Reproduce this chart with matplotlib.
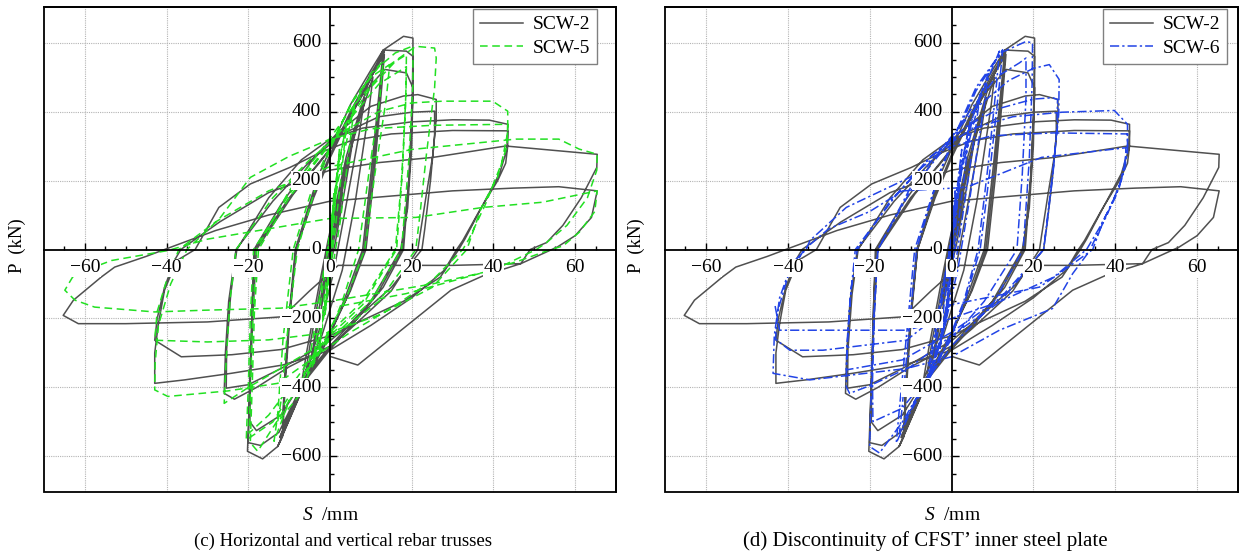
import matplotlib
matplotlib.use("Agg")
import matplotlib.pyplot as plt
from matplotlib.lines import Line2D
from matplotlib.patches import Rectangle
import numpy as np

plt.rcParams['font.family'] = ['Liberation Serif', 'DejaVu Serif']
plt.rcParams['mathtext.fontset'] = 'custom'
plt.rcParams['mathtext.it'] = 'Liberation Serif:italic'
plt.rcParams['mathtext.rm'] = 'Liberation Serif'

# ---------------- data (S in mm, P in kN) ----------------
scw2_small = [(0,0),(1.5,80),(3,165),(2,90),(0.3,-10),(-1.2,-100),(-2.3,-160),(-1.2,-70),(0.2,15),
              (2.8,160),(5.5,310),(4,200),(1.3,20),(-1,-100),(-3.5,-255),(-4.3,-300),(-2.8,-180),(-0.6,-25),(0.5,40),
              (4,250),(8.5,440),(7.2,340),(3.5,100),(0.8,-70),(-3,-250),(-6,-360),(-4.8,-270),(-2,-90),(-0.2,30),
              (3,200),(6.5,350),(10.5,500),(9.6,410),(6.2,140),(3,-60),(-2,-250),(-6.8,-375),(-5.6,-290),(-2.6,-100),(-0.5,25)]
scw2_13 = [(4,270),(9,470),(13,578),(12.4,500),(10.3,250),(8,0),(4,-130),(0,-250),(-5.5,-370),(-12.8,-571),(-11.6,-542),(-11.3,-420),(-10,-200),(-8.3,0),
           (-4,160),(0,275),(5,400),(10,510),(13.2,572),(12.6,495),(10.6,240),(8.4,0),(4.5,-130),(0,-245),(-5.5,-365),(-12.3,-545),(-11.5,-520),(-11,-400),(-9.8,-190),(-8.3,0),
           (-4,150),(0,265),(5,390),(10,500),(13.3,565),(12.8,490),(10.9,230),(8.8,0),(5,-120),(0,-240),(-5.5,-360),(-11.6,-520),(-11.2,-400),(-10,-190),(-8.5,0)]
scw2_20 = [(-3,210),(0,290),(5,420),(10,520),(13,578),(18,618),(20.3,613),(20.3,450),(19.6,250),(18,0),(13,-110),(6,-210),(0,-290),(-5.5,-372),(-12.8,-571),(-16.5,-607),(-20.2,-585),(-19.6,-390),(-18.8,-170),(-18,0),
           (-9,160),(-2.4,257),(1.6,315),(8,450),(13.4,578),(18.7,575),(20.3,560),(20.1,420),(19.3,200),(17.6,0),(12,-120),(5,-225),(0,-285),(-6,-372),(-12.5,-530),(-17,-568),(-20,-560),(-19.6,-380),(-19,-150),(-18.4,0),
           (-10,150),(-3,245),(2,320),(8,450),(13.4,522),(18.7,512),(20.3,469),(20,300),(19,120),(17.3,0),(10,-150),(0,-280),(-6,-368),(-12,-480),(-18,-525),(-19.6,-500),(-19.5,-380),(-19,-150),(-18.6,0)]
scw2_26 = [(-12,130),(-4,265),(2,340),(10,415),(18,445),(21.5,449),(26,435),(26,380),(25.2,276),(23.6,161),(22,40),(21.5,0),(15,-120),(5,-230),(0,-280),(-10,-340),(-18,-400),(-23.4,-434),(-25.9,-417),(-25.6,-300),(-24.8,-150),(-23,0),
           (-14,140),(-5,255),(3,335),(12,385),(20,398),(25.6,401),(25.6,330),(24.6,200),(23.2,60),(22.5,0),(15,-110),(5,-215),(0,-265),(-12,-345),(-20,-392),(-25.4,-402),(-25.3,-290),(-24.3,-130),(-22.8,0)]
scw2_43 = [(-15,150),(-7,260),(0,320),(8,352),(20,370),(30,376),(39,375),(43.5,363),(43.5,300),(43,250),(41,199),(36.6,113),(32.5,26),(31,0),(28,-60),(20,-140),(10,-220),(0,-292),(-11.6,-335),(-24.2,-359),(-35.6,-378),(-42.9,-388),(-42.9,-300),(-42,-215),(-40.5,-118),(-37.5,-32),(-33,0),
           (-27.2,122),(-19.5,190),(-9.8,238),(-2.4,281),(5,315),(15,335),(30,345),(43.5,344),(43.3,290),(41.5,220),(37,120),(33,30),(31.5,0),(27,-80),(18,-150),(8,-205),(0,-250),(-12,-290),(-24,-305),(-36.4,-311),(-42.9,-263),(-42.3,-200),(-40.5,-110),(-38,-30),(-36.5,0)]
scw2_65 = [(-27,80),(-15,165),(0,230),(12,252),(25.2,267),(43,300),(56,286),(65.4,276),(65.3,238),(61.5,150),(57,70),(53,20),(49,0),(46.7,-41),(30,-46),(2,-46),(-5,-120),(-11.6,-195),(-30,-210),(-50,-215),(-61.6,-215),(-65.3,-191),(-62.8,-147),(-56,-80),(-52.7,-51),(-45,-20),(-40.5,0),
           (-28,55),(-15,100),(0,140),(15,155),(30,170),(45,178),(56,182),(65.4,170),(64,93),(60,40),(55.6,7),(46.7,-41),(37.7,-75),(29.6,-118),(6.8,-335),(0.3,-311)]

scw5_small = [(0,0),(0.5,90),(1,170),(0.5,70),(0,-20),(-0.7,-120),(-1.2,-190),(-0.5,-70),(0.2,20),
              (1.2,160),(2.3,290),(1.5,170),(0.3,-30),(-1.3,-170),(-2.6,-290),(-1.6,-160),(-0.1,10),
              (1.8,230),(4,360),(3,240),(1,30),(-1.6,-190),(-4,-330),(-3,-220),(-0.8,-20),
              (1,150),(3,300),(6,420),(5,320),(2.5,80),(0.5,-60),(-2.5,-250),(-5.5,-360),(-4.5,-280),(-1.5,-60),(0.3,60)]
scw5_13 = [(2,200),(6,420),(10,510),(13,545),(12.2,440),(9.5,220),(7,0),(3,-150),(0,-240),(-4,-330),(-8,-430),(-12.8,-500),(-12,-440),(-10.5,-250),(-8,0),
           (-3,200),(0,290),(5,420),(10,500),(14.6,536),(13.8,440),(11,220),(8.5,0),(4,-140),(0,-230),(-5,-340),(-10,-440),(-13.7,-556),(-12.8,-480),(-11.5,-260),(-9,0)]
scw5_20 = [(-4,190),(0,300),(6,440),(12,530),(16,570),(20.3,590),(20.3,480),(19.3,260),(17.5,0),(10,-150),(0,-260),(-6.3,-359),(-12,-480),(-17.7,-585),(-19.5,-560),(-19,-380),(-18.5,-180),(-17.5,0),
           (-10,150),(-3,260),(3,350),(10,470),(16,545),(18.7,565),(18.6,460),(17.8,240),(16.3,0),(8,-160),(0,-250),(-7,-370),(-14,-500),(-20.5,-552),(-20,-400),(-19.5,-200),(-18.7,0),
           (-10,160),(-2,280),(5,380),(12,480),(18.7,530),(18.5,420),(17.5,200),(16,0),(8,-150),(0,-240),(-8,-370),(-15,-480),(-19.8,-532),(-19.5,-420),(-19,-220),(-18,0)]
scw5_26 = [(-10,170),(-2,290),(6,420),(14,530),(21,589),(25.6,584),(26,555),(25.6,469),(23.6,276),(22,100),(21,0),(12,-150),(0,-260),(-10,-330),(-20,-400),(-25.9,-446),(-25.5,-340),(-24.5,-150),(-23,0)]
scw5_43 = [(-14,150),(-5,260),(3,340),(12,400),(20,425),(27.6,430),(39.8,430),(43.5,401),(43.5,340),(42,250),(38,130),(34,30),(32.5,0),(25,-90),(15,-170),(5,-240),(0,-280),(-12.8,-388),(-25,-410),(-39.7,-426),(-42.9,-407),(-42.8,-330),(-42,-220),(-39,-100),(-35,0),
           (-27,90),(-19.5,209),(-10,270),(0,320),(10,350),(25,360),(43.5,363),(43.3,300),(41,210),(37,120),(33.5,0),(25,-110),(12,-190),(0,-240),(-15,-262),(-30,-268),(-42.9,-263),(-42.3,-180),(-40,-90),(-37,0)]
scw5_65 = [(-28,80),(-15,170),(0,240),(20,290),(45.5,320),(56,320),(61,291),(65.4,276),(65.3,230),(63,150),(58,70),(53,20),(50.5,0),(40,-60),(25,-100),(10,-130),(0,-150),(-12,-170),(-30.7,-176),(-42.9,-181),(-57.6,-167),(-62.4,-147),(-64.9,-118),(-63,-80),(-60,-61),(-53.5,-32),(-39.7,-3),
           (-30,30),(-15,60),(0,90),(21,93),(37.4,122),(52,137),(65.4,170),(64.8,110),(61,50),(57,10),(54,0),(46.5,-32),(36.5,-70),(18.6,-128),(1.7,-166)]

scw6_small = [(0,0),(0.4,90),(0.9,170),(0.5,70),(0,-20),(-0.8,-130),(-1.5,-220),(-0.8,-90),(0.1,20),
              (1.3,170),(2.5,290),(1.6,160),(0.3,-40),(-1.5,-190),(-3,-300),(-2,-180),(-0.2,10),
              (2,220),(4.5,370),(3.5,250),(1.2,30),(-2,-220),(-4.5,-350),(-3.5,-250),(-1,-40),
              (1.5,180),(4,340),(7,450),(6,360),(3,120),(0.5,-80),(-2.5,-260),(-5.5,-372),(-4.5,-290),(-1.8,-90),(0.2,40),
              (2.5,230),(5.5,400),(9,510),(8,420),(4.5,150),(1.5,-60),(-2,-240),(-6,-378),(-5,-300),(-2,-100),(0,20)]
scw6_13 = [(2.5,230),(7,440),(11.7,575),(11,480),(9,250),(6.5,0),(3,-150),(0,-240),(-5,-360),(-9,-440),(-12.7,-532),(-12,-450),(-10.5,-250),(-8.5,0),
           (-3,220),(0,300),(6,460),(12.5,579),(11.8,490),(9.5,240),(7,0),(3,-160),(0,-250),(-5,-365),(-10,-470),(-13.5,-561),(-12.8,-470),(-11,-250),(-9,0)]
scw6_20 = [(-3,220),(0,310),(6,470),(12,570),(18.2,603),(19.8,599),(19.7,480),(19,260),(17.5,0),(10,-160),(0,-280),(-6,-378),(-12,-500),(-17.6,-590),(-20,-571),(-19.6,-400),(-19,-200),(-18,0),
           (-10,170),(-2,290),(5,410),(11,500),(16.6,541),(18.2,555),(18.2,440),(17.3,220),(16,0),(8,-150),(0,-260),(-6,-370),(-12,-460),(-19.2,-499),(-19.3,-380),(-18.8,-180),(-18,0)]
scw6_26 = [(-10,180),(-2,300),(6,410),(14,490),(20,525),(23.9,536),(26.3,493),(26.2,392),(25,250),(23.5,100),(22.5,0),(12,-150),(0,-250),(-10,-340),(-20,-395),(-24.9,-417),(-25.7,-398),(-25.6,-300),(-24.8,-150),(-23.5,0),
           (-14,150),(-5,270),(4,360),(12,410),(20,436),(24.7,440),(25.9,435),(25.8,360),(24.8,220),(23.3,70),(22.5,0),(12,-140),(0,-240),(-12,-320),(-25.7,-349),(-25.4,-250),(-24.5,-110),(-23,0)]
scw6_43 = [(-15,140),(-5,270),(5,350),(15,385),(27,398),(39.8,403),(43,363),(43,300),(41.5,200),(38,100),(34.5,16),(34,0),(29.6,-70),(24.7,-171),(11.7,-234),(0,-311),(-11,-345),(-34.6,-378),(-43.6,-359),(-43.3,-250),(-42,-140),(-39,-40),(-35.5,0),
           (-34.6,26),(-25.7,122),(-10.2,209),(-1.3,295),(10,330),(25,338),(43,335),(43,280),(41,180),(37,80),(34.5,0),(26.3,-70),(21.5,-109),(0,-160),(-11,-263),(-31.4,-292),(-39.5,-292),(-43,-260),(-42.5,-180),(-40,-80),(-36,0),
           (-30,60),(-20,110),(-11.9,170),(3.6,180),(22,267),(42.6,295),(42.5,240),(40,150),(36,60),(33,0),(25,-80),(12,-150),(0,-200),(-11,-234),(-42,-234),(-43.2,-157)]

x_major = [-60, -40, -20, 0, 20, 40, 60]
y_major = [-600, -400, -200, 0, 200, 400, 600]
captions = ["(c) Horizontal and vertical rebar trusses", "(d) Discontinuity of CFST\u2019 inner steel plate"]

scw2 = np.array(scw2_small + scw2_13 + scw2_20 + scw2_26 + scw2_43 + scw2_65)
scw5 = np.array(scw5_small + scw5_13 + scw5_20 + scw5_26 + scw5_43 + scw5_65)
scw6 = np.array(scw6_small + scw6_13 + scw6_20 + scw6_26 + scw6_43)

GRAY = '#505050'
GREEN = '#22e022'
BLUE = '#2244e6'

W, H = 1240, 560
fig = plt.figure(figsize=(W/100, H/100), dpi=100)

def px_ax(l, r, t, b):
    return [l/W, 1 - b/H, (r-l)/W, (b-t)/H]

ax1 = fig.add_axes(px_ax(44, 616, 7, 492))
ax2 = fig.add_axes(px_ax(665, 1238, 7, 492))

def style(ax):
    ax.set_xlim(-70, 70)
    ax.set_ylim(-703, 703)
    ax.spines['left'].set_position(('data', 0))
    ax.spines['bottom'].set_position(('data', 0))
    for s in ax.spines.values():
        s.set_linewidth(1.3)
        s.set_color('black')
        s.set_zorder(6)
    ax.add_patch(Rectangle((0, 0), 1, 1, transform=ax.transAxes, fill=False,
                           lw=1.3, ec='black', zorder=6, clip_on=False))
    ax.set_xticks(x_major)
    ax.set_xticks(np.arange(-65, 70, 5), minor=True)
    ax.set_yticks(y_major)
    ax.set_yticks(np.arange(-650, 700, 50), minor=True)
    ax.tick_params(which='both', direction='in', labelbottom=False, labelleft=False,
                   top=False, right=False, width=1.0, color='black', zorder=6)
    ax.tick_params(which='major', length=5)
    ax.tick_params(which='minor', length=3)
    for v in [-60, -40, -20, 20, 40, 60]:
        ax.axvline(v, color='#b4b4b4', lw=0.8, ls=(0, (1, 1)), zorder=0)
    for v in [-600, -400, -200, 200, 400, 600]:
        ax.axhline(v, color='#b4b4b4', lw=0.8, ls=(0, (1, 1)), zorder=0)
    bb = dict(facecolor='white', edgecolor='none', pad=0.6)
    for v in x_major:
        ax.annotate(f"{v}".replace('-', '\u2212'), xy=(v, 0), xytext=(0, -13.3), textcoords='offset points',
                    ha='center', va='center', fontsize=14, bbox=bb, zorder=8)
    for v in y_major:
        ax.annotate(f"{v}".replace('-', '\u2212'), xy=(0, v), xytext=(-6.5, 0), textcoords='offset points',
                    ha='right', va='center', fontsize=14, bbox=bb, zorder=8)

style(ax1)
style(ax2)

ax1.plot(scw2[:, 0], scw2[:, 1], color=GRAY, lw=1.1, zorder=3)
ax1.plot(scw5[:, 0], scw5[:, 1], color=GREEN, lw=1.1, ls=(0, (5, 3)), zorder=4)
ax2.plot(scw2[:, 0], scw2[:, 1], color=GRAY, lw=1.1, zorder=3)
ax2.plot(scw6[:, 0], scw6[:, 1], color=BLUE, lw=1.1, ls=(0, (6, 2, 1.5, 2)), zorder=4)

def legend(ax, h2, lab2, anchor):
    h1 = Line2D([], [], color=GRAY, lw=1.1)
    lg = ax.legend([h1, h2], ['SCW-2', lab2], loc='upper right', bbox_to_anchor=anchor,
                   fontsize=14, frameon=True, fancybox=False, edgecolor='#808080',
                   framealpha=1, borderaxespad=0, handlelength=2.2, handletextpad=0.5,
                   labelspacing=0.3, borderpad=0.35)
    lg.get_frame().set_linewidth(1.0)
    lg.set_zorder(10)

legend(ax1, Line2D([], [], color=GREEN, lw=1.1, ls=(0, (5, 3))), 'SCW-5', (0.967, 0.996))
legend(ax2, Line2D([], [], color=BLUE, lw=1.1, ls=(0, (6, 2, 1.5, 2))), 'SCW-6', (0.981, 0.996))

for xc in (17.5, 636):
    fig.text(xc/W, 1 - 246/H, 'P  (kN)', rotation=90, ha='center', va='center', fontsize=13.5)
for xc in (330, 952):
    fig.text(xc/W, 1 - 516/H, r'$S$  /mm', ha='center', va='center', fontsize=14)
fig.text(343/W, 1 - 541/H, captions[0], ha='center', va='center', fontsize=13.5)
fig.text(925/W, 1 - 541/H, captions[1], ha='center', va='center', fontsize=15)

fig.savefig('out.png', dpi=100)
